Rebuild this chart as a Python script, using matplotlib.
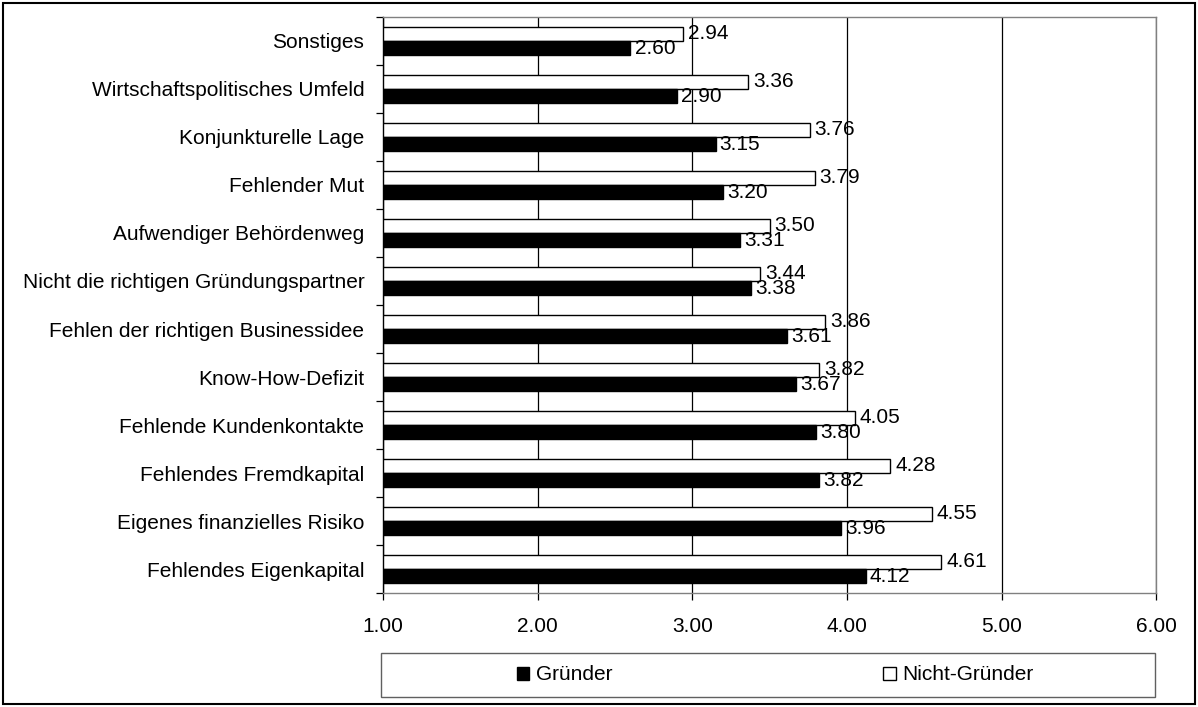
import matplotlib
matplotlib.use("Agg")
import matplotlib.pyplot as plt
import numpy as np
from matplotlib.patches import Rectangle, Patch

plt.rcParams['font.family'] = ['Liberation Sans', 'DejaVu Sans']

# Obstacles to founding a company, mean rating per group (bottom to top)
categories = [
    "Fehlendes Eigenkapital",
    "Eigenes finanzielles Risiko",
    "Fehlendes Fremdkapital",
    "Fehlende Kundenkontakte",
    "Know-How-Defizit",
    "Fehlen der richtigen Businessidee",
    "Nicht die richtigen Gründungspartner",
    "Aufwendiger Behördenweg",
    "Fehlender Mut",
    "Konjunkturelle Lage",
    "Wirtschaftspolitisches Umfeld",
    "Sonstiges",
]
gruender = [4.12, 3.96, 3.82, 3.80, 3.67, 3.61, 3.38, 3.31, 3.20, 3.15, 2.90, 2.60]
nicht_gruender = [4.61, 4.55, 4.28, 4.05, 3.82, 3.86, 3.44, 3.50, 3.79, 3.76, 3.36, 2.94]
x_ticks = [1, 2, 3, 4, 5, 6]

FS = 15

fig = plt.figure(figsize=(11.98, 7.07), dpi=100)
ax = fig.add_axes([0.3197, 0.1612, 0.6455, 0.8148])

y = np.arange(len(categories))
h = 0.30
base = 1.0
ax.barh(y + h / 2, np.array(nicht_gruender) - base, height=h, left=base,
        color="white", edgecolor="black", linewidth=1.0, zorder=3,
        label="Nicht-Gründer")
ax.barh(y - h / 2, np.array(gruender) - base, height=h, left=base,
        color="black", edgecolor="black", linewidth=1.0, zorder=3,
        label="Gründer")

for yi, v in zip(y, nicht_gruender):
    ax.annotate(f"{v:.2f}", (v, yi + h / 2), xytext=(3.5, 0),
                textcoords="offset points", ha="left", va="center",
                fontsize=FS, zorder=4)
for yi, v in zip(y, gruender):
    ax.annotate(f"{v:.2f}", (v, yi - h / 2), xytext=(3.0, -0.5),
                textcoords="offset points", ha="left", va="center",
                fontsize=FS, zorder=4)

ax.set_xlim(1, 6)
ax.set_ylim(-0.5, len(categories) - 0.5)
ax.set_xticks(x_ticks)
ax.set_xticklabels([f"{t:.2f}" for t in x_ticks], fontsize=FS)
ax.xaxis.grid(True, color="black", linewidth=0.9, zorder=0)

ax.set_yticks(y)
ax.set_yticklabels(categories, fontsize=FS)
ax.set_yticks(np.arange(-0.5, len(categories), 1.0), minor=True)
ax.tick_params(axis="y", which="major", length=0, pad=13.5)
ax.tick_params(axis="y", which="minor", length=5, width=0.9, direction="out")
ax.tick_params(axis="x", length=5, width=0.9, direction="out", pad=12)

for side in ("top", "right", "bottom"):
    ax.spines[side].set_color("#808080")
    ax.spines[side].set_linewidth(1.0)
ax.spines["left"].set_color("black")
ax.spines["left"].set_linewidth(1.0)

# Legend frame spanning the plot width
fig.patches.append(Rectangle((381 / 1198, 1 - 697 / 707), (1155 - 381) / 1198,
                             (697 - 653) / 707, transform=fig.transFigure,
                             facecolor="white", edgecolor="#606060",
                             linewidth=1.0))
handles = [Patch(facecolor="black", edgecolor="black", label="Gründer"),
           Patch(facecolor="white", edgecolor="black", label="Nicht-Gründer")]
fig.legend(handles=handles, loc="center", ncol=2, frameon=False,
           bbox_to_anchor=(775 / 1198, 1 - 675 / 707), fontsize=FS,
           handlelength=0.6, handleheight=0.6, handletextpad=0.3,
           columnspacing=13.0)

# Outer figure border
fig.patches.append(Rectangle((3 / 1198, 3 / 707), 1 - 6 / 1198, 1 - 6 / 707,
                             transform=fig.transFigure, fill=False,
                             edgecolor="black", linewidth=1.5))

fig.savefig("out.png", dpi=100)
